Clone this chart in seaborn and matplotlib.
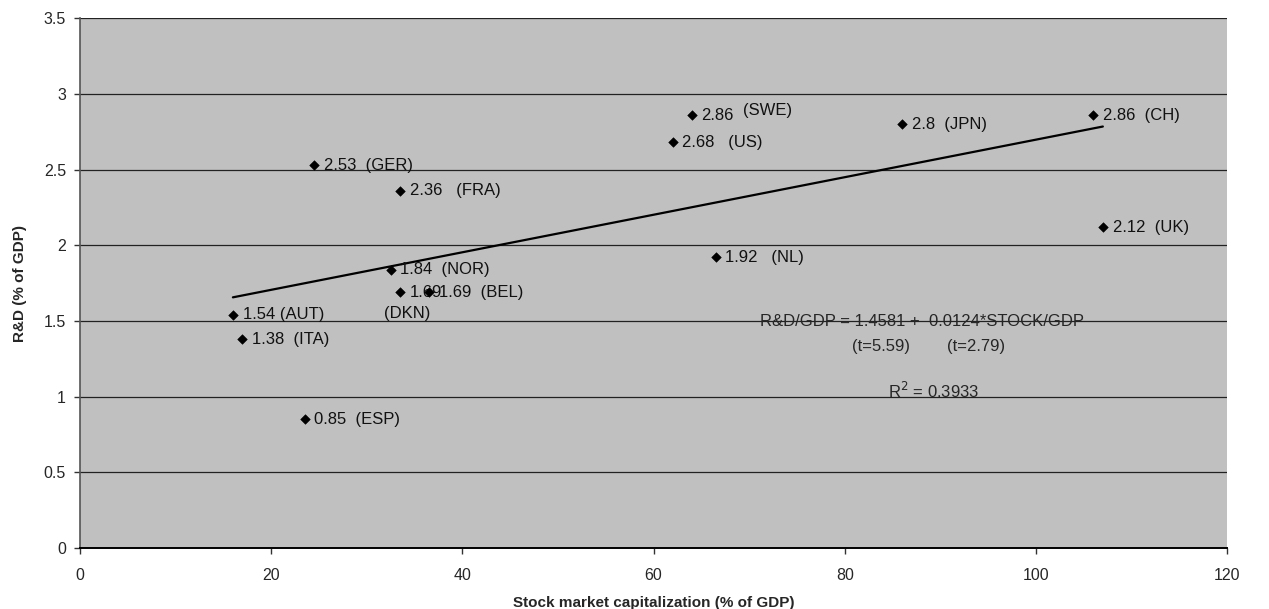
import matplotlib
matplotlib.use("Agg")
import matplotlib.pyplot as plt
import numpy as np
import pandas as pd
import seaborn as sns

# data
countries = ['AUT', 'ITA', 'ESP', 'GER', 'NOR', 'DKN', 'FRA', 'BEL',
             'US', 'SWE', 'NL', 'JPN', 'CH', 'UK']
stock_cap = [16, 17, 23.5, 24.5, 32.5, 33.5, 33.5, 36.5,
             62, 64, 66.5, 86, 106, 107]
rd_gdp = [1.54, 1.38, 0.85, 2.53, 1.84, 1.69, 2.36, 1.69,
          2.68, 2.86, 1.92, 2.8, 2.86, 2.12]
labels = ['1.54 (AUT)', '1.38  (ITA)', '0.85  (ESP)', '2.53  (GER)', '1.84  (NOR)',
          '1.69', '2.36   (FRA)', '1.69  (BEL)', '2.68   (US)', '2.86',
          '1.92   (NL)', '2.8  (JPN)', '2.86  (CH)', '2.12  (UK)']
intercept = 1.4581
slope = 0.0124

df = pd.DataFrame({'country': countries, 'stock': stock_cap, 'rd': rd_gdp, 'label': labels})

sns.set_style("white")
plt.rcParams['font.family'] = ['Liberation Sans', 'DejaVu Sans']

fig = plt.figure(figsize=(12.69, 6.09), dpi=100)
ax = fig.add_axes([0.063, 0.100, 0.904, 0.870])
ax.set_facecolor('#C0C0C0')

# trend line over the data range
xs = np.array([df['stock'].min(), df['stock'].max()])
sns.lineplot(x=xs, y=intercept + slope * xs, color='black', lw=1.6, ax=ax)
sns.scatterplot(data=df, x='stock', y='rd', marker='D', s=24, color='black',
                edgecolor='black', ax=ax, zorder=5)

fs = 12
for _, r in df.iterrows():
    ax.annotate(r['label'], (r['stock'], r['rd']), xytext=(7, 0), textcoords='offset points',
                va='center', ha='left', fontsize=fs, color='#111111')
# special labels
ax.annotate('(SWE)', (64, 2.86), xytext=(37, 3), textcoords='offset points',
            va='center', ha='left', fontsize=fs, color='#111111')
ax.annotate('(DKN)', (33.5, 1.69), xytext=(-12, -15), textcoords='offset points',
            va='center', ha='left', fontsize=fs, color='#111111')

ax.text(71.1, 1.5, 'R&D/GDP = 1.4581 +  0.0124*STOCK/GDP', fontsize=fs, va='center', ha='left')
ax.text(80.8, 1.335, '(t=5.59)        (t=2.79)', fontsize=fs, va='center', ha='left')
ax.text(89.3, 1.04, r'R$^2$ = 0.3933', fontsize=fs, va='center', ha='center')

ax.set_xlim(0, 120)
ax.set_ylim(0, 3.5)
ax.set_xticks(np.arange(0, 121, 20))
ax.set_yticks(np.arange(0, 3.51, 0.5))
ax.set_yticklabels(['0', '0.5', '1', '1.5', '2', '2.5', '3', '3.5'])
ax.yaxis.grid(True, color='#222222', lw=0.9)
ax.set_axisbelow(True)
ax.tick_params(axis='both', direction='out', length=4, width=1, labelsize=11.5,
               color='#333333', left=True, bottom=True)
ax.tick_params(axis='x', pad=10)
ax.tick_params(axis='y', pad=6)
for s in ['top', 'right']:
    ax.spines[s].set_visible(False)
ax.spines['left'].set_color('#555555')
ax.spines['bottom'].set_color('black')
ax.spines['left'].set_linewidth(1.2)
ax.spines['bottom'].set_linewidth(1.4)

ax.set_xlabel('Stock market capitalization (% of GDP)', fontsize=11, fontweight='bold', labelpad=10)
ax.set_ylabel('R&D (% of GDP)', fontsize=11, fontweight='bold', labelpad=12)

fig.savefig('out.png', dpi=100)
